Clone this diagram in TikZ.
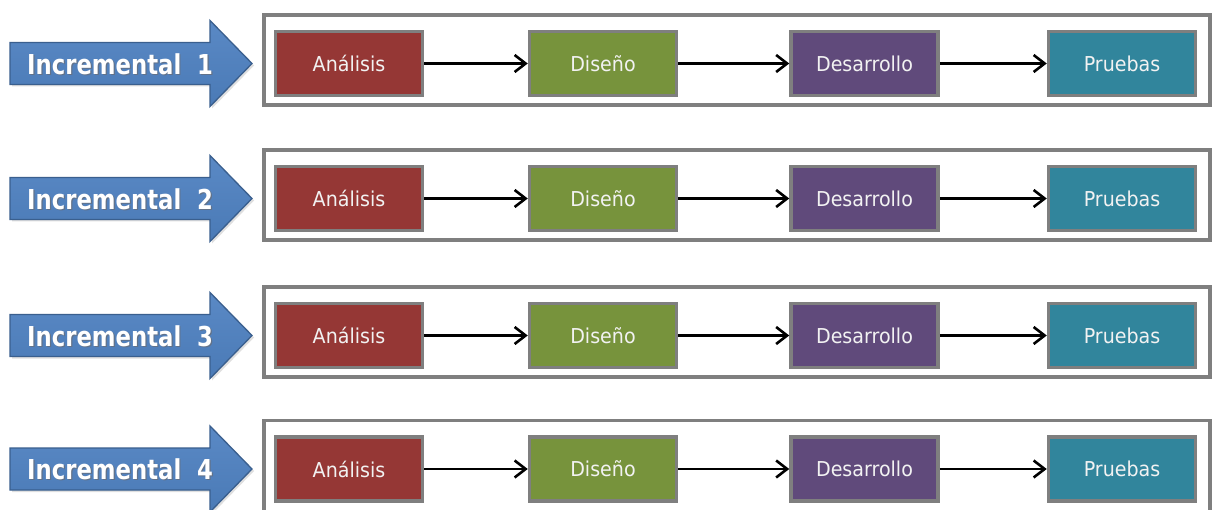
\documentclass[tikz,border=0pt]{standalone}
\usepackage{fontspec}
\usetikzlibrary{arrows.meta,shadows}
\newfontfamily\boxfont{DejaVu Sans}[FakeStretch=0.93]
\newfontfamily\bannerfont{DejaVu Sans}[FakeStretch=0.83]

\definecolor{gridgray}{HTML}{7F7F7F}
\definecolor{redstep}{HTML}{953735}
\definecolor{greenstep}{HTML}{77933C}
\definecolor{purplestep}{HTML}{604A7B}
\definecolor{tealstep}{HTML}{31859C}
\definecolor{bannertop}{HTML}{5A89C5}
\definecolor{bannerbot}{HTML}{4A7AB6}
\definecolor{bannerline}{HTML}{3A5F8E}
\definecolor{bannershade}{HTML}{1F3556}

\newcommand{\shadowtext}[1]{\rlap{\kern1.2pt\raisebox{-1.2pt}{\color{bannershade!70}#1}}#1}

\tikzset{
  phasebox/.style={draw=gridgray, line width=3.5pt, minimum width=147pt,
    minimum height=64pt, inner sep=0pt, text=white!95!black,
    font=\boxfont\fontsize{20.5}{24}\selectfont},
  rowframe/.style={draw=gridgray, line width=3.5pt, minimum width=946pt,
    minimum height=90pt, inner sep=0pt},
  flow/.style={line width=2.4pt, -{Straight Barb[length=11pt,width=17pt,line width=2.6pt]}},
  banner/.style={draw=bannerline, line width=1.3pt, top color=bannertop,
    bottom color=bannerbot,
    drop shadow={opacity=0.25, shadow xshift=2pt, shadow yshift=-2pt}},
  bannertext/.style={anchor=west, inner sep=0pt, text=white,
    font=\bannerfont\bfseries\fontsize{27.4}{30}\selectfont}
}

\begin{document}
\begin{tikzpicture}[x=1pt,y=-1pt]
  \useasboundingbox (0,0) rectangle (1214,510);
  \fill[white] (0,0) rectangle (1214,510);

  \foreach \n/\c/\h in {1/63.5/90, 2/198.5/90, 3/335.5/90, 4/469/96} {
    % banner arrow with the increment label
    \draw[banner] (10,\c-21) -- (210,\c-21) -- (210,\c-43) -- (252,\c)
      -- (210,\c+43) -- (210,\c+21) -- (10,\c+21) -- cycle;
    \node[bannertext] (lbl\n) at (27,\c+1) {\shadowtext{Incremental\ \ \n}};

    % frame around the four phases
    \node[rowframe, minimum height=\h pt] (frame\n) at (737,\c-48.5+\h/2) {};

    % phases of the increment
    \node[phasebox, fill=redstep]    (ana\n) at (349,\c)   {Análisis};
    \node[phasebox, fill=greenstep]  (dis\n) at (603,\c)   {Diseño};
    \node[phasebox, fill=purplestep] (des\n) at (864.5,\c) {Desarrollo};
    \node[phasebox, fill=tealstep]   (pru\n) at (1122,\c)  {Pruebas};

    \draw[flow] (ana\n.east) -- (dis\n.west);
    \draw[flow] (dis\n.east) -- (des\n.west);
    \draw[flow] (des\n.east) -- (pru\n.west);
  }
\end{tikzpicture}
\end{document}
